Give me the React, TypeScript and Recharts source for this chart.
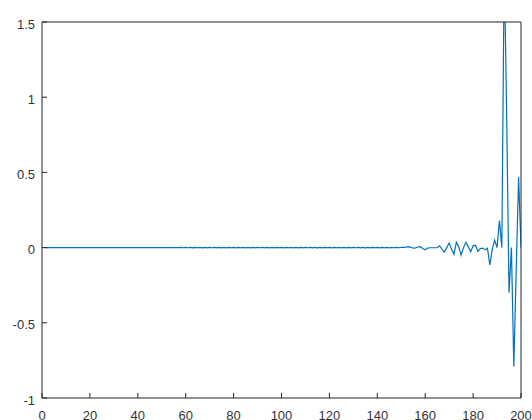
import React from 'react';
import { LineChart, Line, XAxis, YAxis } from 'recharts';

const signal: number[] = [
  0, 0, 0, 0, 0, 0, 0, 0, 0, 0,
  0, 0, 0, 0, 0, 0, 0, 0, 0, 0,
  0, 0, 0, 0, 0, 0, 0, 0, 0, 0,
  0, 0, 0, 0, 0, 0, 0, 0, 0, 0,
  0, 0, 0, 0, 0, 0, 0, 0, 0, 0,
  0, 0, 0, 0, 0, 0, 0, 0.001, -0.001, 0.001,
  -0.001, 0.001, -0.0015, 0.0015, -0.001, 0.0015, -0.0015, 0.001, -0.0015, 0.0015,
  -0.001, 0.0015, -0.0015, 0.0015, -0.0015, 0.001, -0.0015, 0.0015, -0.001, 0.0015,
  -0.0015, 0.0015, -0.001, 0.0015, -0.0015, 0.0015, -0.0015, 0.001, -0.0015, 0.0015,
  -0.001, 0.0015, -0.0015, 0.0015, -0.0015, 0.001, -0.0015, 0.0015, -0.001, 0.0015,
  -0.0015, 0.0015, -0.001, 0.0015, -0.0015, 0.0015, -0.0015, 0.001, -0.0015, 0.0015,
  -0.001, 0.0015, -0.0015, 0.0015, -0.0015, 0.001, -0.0015, 0.0015, -0.001, 0.0015,
  -0.0015, 0.0015, -0.001, 0.0015, -0.0015, 0.0015, -0.0015, 0.001, -0.0015, 0.0015,
  -0.001, 0.0015, -0.0015, 0.0015, -0.0015, 0.001, -0.0015, 0.0015, -0.001, 0.0015,
  -0.0015, 0.0015, -0.001, 0.0015, -0.0015, 0.001, -0.001, 0.0015, -0.001, 0.001,
  0.001, 0.003, 0.006, 0.002, -0.004, -0.002, 0.004, 0.006, -0.006, -0.014,
  -0.003, -0.001, -0.001, -0.001, -0.001, 0.012, -0.01, -0.03, 0.0, 0.03,
  -0.01, -0.045, 0.035, 0.005, -0.05, 0.0, 0.035, 0.005, -0.028, 0.012,
  0.016, -0.025, -0.006, -0.003, -0.015, -0.005, -0.115, -0.01, 0.05, 0.0,
  0.18, 0.0, 1.9, 0.9, -0.3, 0.0, -0.79, -0.15, 0.47, 0.0,
];

const xTicks: number[] = [0, 20, 40, 60, 80, 100, 120, 140, 160, 180, 200];
const yTicks: number[] = [-1, -0.5, 0, 0.5, 1, 1.5];

const data = signal.map((v, i) => ({ x: i + 1, y: v }));

const axisColor = '#262626';
const textColor = '#333333';
const font = 'Liberation Sans, Arial, sans-serif';

export default function App() {
  return (
    <div style={{ position: 'absolute', left: 0, top: 0, width: 532, height: 420, background: '#fff' }}>
      <LineChart width={532} height={420} data={data} margin={{ top: 21, right: 10, bottom: 0, left: 0 }}>
        <XAxis
          xAxisId="b"
          dataKey="x"
          type="number"
          domain={[0, 200]}
          ticks={xTicks}
          interval={0}
          height={22}
          tickSize={-5}
          tickMargin={18}
          stroke={axisColor}
          tick={{ fill: textColor, fontSize: 13, fontFamily: font }}
          allowDataOverflow
        />
        <XAxis
          xAxisId="t"
          orientation="top"
          dataKey="x"
          type="number"
          domain={[0, 200]}
          ticks={xTicks}
          interval={0}
          height={1}
          tickSize={-5}
          tick={false}
          stroke={axisColor}
          allowDataOverflow
        />
        <YAxis
          yAxisId="l"
          type="number"
          domain={[-1, 1.5]}
          ticks={yTicks}
          interval={0}
          width={42}
          tickSize={-5}
          tickMargin={12}
          stroke={axisColor}
          tick={{ fill: textColor, fontSize: 13, fontFamily: font, dy: 2 }}
          allowDataOverflow
        />
        <YAxis
          yAxisId="r"
          orientation="right"
          type="number"
          domain={[-1, 1.5]}
          ticks={yTicks}
          interval={0}
          width={1}
          tickSize={-5}
          tick={false}
          stroke={axisColor}
          allowDataOverflow
        />
        <Line
          xAxisId="b"
          yAxisId="l"
          type="linear"
          dataKey="y"
          stroke="#0072BD"
          strokeWidth={1.2}
          dot={false}
          isAnimationActive={false}
        />
      </LineChart>
    </div>
  );
}
